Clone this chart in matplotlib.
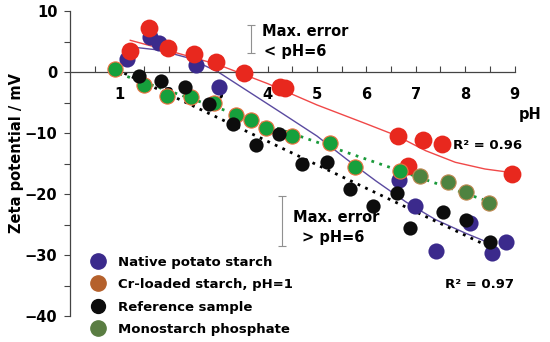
import numpy as np
import matplotlib
matplotlib.use('Agg')
import matplotlib.pyplot as plt
from matplotlib.lines import Line2D

plt.rcParams['font.family'] = 'DejaVu Sans'
plt.rcParams['font.weight'] = 'bold'

# Native potato starch
native_ph = [1.16, 1.61, 1.81, 2.56, 3.02, 6.65, 6.98, 7.41, 8.10, 8.54, 8.83]
native_zeta = [2.1, 5.7, 4.7, 1.1, -2.5, -17.7, -21.9, -29.3, -24.8, -29.6, -27.9]
# Cr-loaded starch, pH=1
cr_ph = [1.22, 1.59, 1.99, 2.52, 2.95, 3.53, 4.25, 4.35, 6.63, 6.85, 7.15, 7.54, 8.94]
cr_zeta = [3.4, 7.2, 3.9, 2.9, 1.6, -0.2, -2.5, -2.7, -10.5, -15.4, -11.1, -11.8, -16.7]
# Reference sample
ref_ph = [1.40, 1.85, 2.33, 2.82, 3.29, 3.77, 4.24, 4.70, 5.20, 5.66, 6.13, 6.61, 6.89, 7.56, 8.02, 8.50]
ref_zeta = [-0.6, -1.4, -2.5, -5.3, -8.6, -11.9, -10.2, -15.1, -14.7, -19.1, -21.9, -19.9, -25.5, -23.0, -24.3, -27.8]
# Monostarch phosphate
mono_ph = [0.91, 1.49, 1.96, 2.44, 2.92, 3.37, 3.67, 3.96, 4.50, 5.26, 5.76, 6.69, 7.08, 7.65, 8.02, 8.49]
mono_zeta = [0.5, -2.1, -3.9, -4.1, -5.0, -7.0, -7.9, -9.1, -10.5, -11.6, -15.6, -16.2, -17.0, -18.1, -19.7, -21.5]

# trend lines
cr_fit_ph = [1.22, 2.0, 3.0, 4.0, 5.0, 6.0, 6.6, 7.2, 7.8, 8.4, 8.95]
cr_fit_zeta = [5.2, 3.5, 1.2, -1.9, -5.4, -8.5, -10.4, -12.9, -14.8, -15.9, -16.5]
native_fit_ph = [1.25, 1.8, 2.4, 3.0, 3.65, 4.3, 5.0, 5.6, 6.2, 6.8, 7.4, 8.0, 8.45]
native_fit_zeta = [4.1, 3.6, 2.3, 0.0, -3.4, -6.8, -10.5, -14.3, -17.9, -21.3, -24.2, -26.4, -27.9]
ref_fit_ph = [1.1, 8.45]
ref_fit_zeta = [-0.2, -28.5]
mono_fit_ph = [1.0, 8.5]
mono_fit_zeta = [-0.3, -21.3]

purple = '#3b2a8c'
red = '#e8281e'
green = '#16a03c'
olive = '#4e8340'

fig = plt.figure(figsize=(5.5, 3.42), dpi=100)
ax = fig.add_axes([0.1273, 0.0760, 0.8622, 0.8918])
ax.set_xlim(0, 9.6)
ax.set_ylim(-40, 10)

ax.plot(cr_fit_ph, cr_fit_zeta, color='#f04848', lw=1.0, zorder=2)
ax.plot(native_fit_ph, native_fit_zeta, color='#5a4aa0', lw=1.0, zorder=2)
ax.plot(ref_fit_ph, ref_fit_zeta, color='black', lw=2.0, ls=(0, (1, 2)), zorder=2)
ax.plot(mono_fit_ph, mono_fit_zeta, color='#1a9a3a', lw=2.0, ls=(0, (1, 2)), zorder=2)

ax.scatter(native_ph, native_zeta, s=135, color=purple, lw=0, zorder=3, clip_on=False)
ax.scatter(cr_ph, cr_zeta, s=165, color=red, lw=0, zorder=4, clip_on=False)
ax.scatter(mono_ph[:12], mono_zeta[:12], s=120, color=green, edgecolor='#f07040', lw=0.8, zorder=5, clip_on=False)
ax.scatter(mono_ph[12:], mono_zeta[12:], s=120, color=olive, edgecolor='#c08850', lw=0.8, zorder=5, clip_on=False)
ax.scatter(ref_ph, ref_zeta, s=105, color='#0d0d0d', lw=0, zorder=6, clip_on=False)

# axes styling
for s in ['top', 'right']:
    ax.spines[s].set_visible(False)
ax.spines['bottom'].set_position(('data', 0))
ax.spines['bottom'].set_bounds(0, 9)
ax.spines['left'].set_bounds(-40, 10)
for s in ['bottom', 'left']:
    ax.spines[s].set_color('#444444')
    ax.spines[s].set_linewidth(0.9)

ax.set_xticks(range(1, 10))
ax.set_xticks(np.arange(0.5, 9.01, 0.5), minor=True)
ax.set_yticks(range(-40, 11, 10))
ax.set_yticks(range(-35, 10, 10), minor=True)
ax.tick_params(axis='x', which='both', direction='in', length=4, width=0.8,
               color='#444444', pad=11, labelsize=10.5)
ax.tick_params(axis='y', which='both', direction='out', length=4, width=0.8,
               color='#444444', pad=5, labelsize=10.5)
for lab in ax.get_xticklabels() + ax.get_yticklabels():
    lab.set_fontweight('bold')

ax.set_ylabel('Zeta potential / mV', fontsize=10.5, fontweight='bold')
ax.yaxis.set_label_coords(-0.097, 0.535)
ax.text(9.32, -7.0, 'pH', fontsize=10.5, fontweight='bold', ha='center', va='center')

# error annotations
ax.errorbar([3.67], [5.4], yerr=[2.3], color='#909090', lw=0.8, capsize=3, capthick=0.8)
ax.errorbar([4.30], [-24.4], yerr=[4.1], color='#909090', lw=0.8, capsize=3, capthick=0.8)
ax.text(3.89, 6.6, 'Max. error', fontsize=10.5, fontweight='bold', va='center')
ax.text(3.93, 3.3, '< pH=6', fontsize=10.5, fontweight='bold', va='center')
ax.text(4.52, -23.9, 'Max. error', fontsize=10.5, fontweight='bold', va='center')
ax.text(4.70, -27.2, '> pH=6', fontsize=10.5, fontweight='bold', va='center')
ax.text(7.76, -12.0, 'R² = 0.96', fontsize=9.5, fontweight='bold', va='center')
ax.text(7.60, -34.8, 'R² = 0.97', fontsize=9.5, fontweight='bold', va='center')

handles = [
    Line2D([], [], ls='', marker='o', ms=11, color=purple, mec=purple),
    Line2D([], [], ls='', marker='o', ms=11, color='#b5612c', mec='#b5612c'),
    Line2D([], [], ls='', marker='o', ms=10, color='#0d0d0d', mec='#0d0d0d'),
    Line2D([], [], ls='', marker='o', ms=11, color='#5a7d42', mec='#5a7d42'),
]
labels = ['Native potato starch', 'Cr-loaded starch, pH=1', 'Reference sample', 'Monostarch phosphate']
ax.legend(handles, labels, loc='upper left', bbox_to_anchor=(0.151, 0.272),
          bbox_transform=fig.transFigure, frameon=False,
          handlelength=1.2, handletextpad=0.98, labelspacing=0.72, borderpad=0,
          prop={'weight': 'bold', 'size': 9.5})

fig.savefig('out.png', dpi=100)
